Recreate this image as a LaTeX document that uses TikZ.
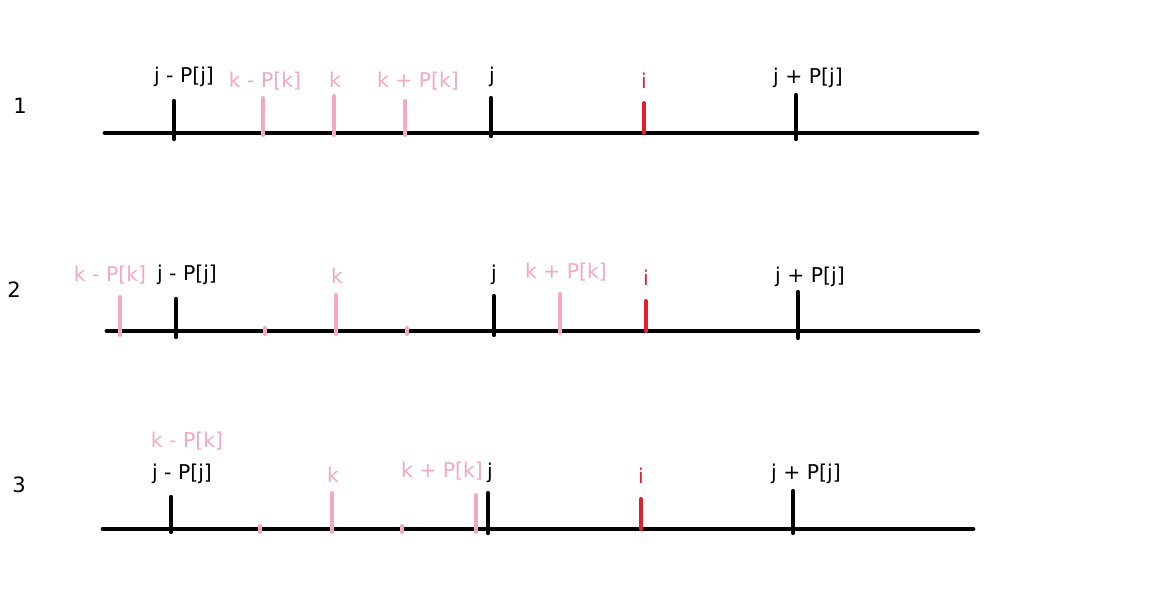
\documentclass[tikz,border=0pt]{standalone}
\usepackage{fontspec}
\setmainfont{DejaVu Sans}
\definecolor{kpink}{RGB}{244,168,194}
\definecolor{ired}{RGB}{228,30,44}
\tikzset{
  axis/.style={line width=2.7pt, line cap=round},
  jtick/.style={line width=2.4pt, line cap=round},
  ktick/.style={line width=2.3pt, line cap=round, kpink},
  itick/.style={line width=2.3pt, line cap=round, ired},
  lbl/.style={anchor=base, inner sep=0pt, font=\fontsize{11.6}{13}\selectfont},
  klbl/.style={lbl, text=kpink},
  ilbl/.style={lbl, text=ired},
  rownum/.style={lbl, font=\fontsize{12}{14}\selectfont}
}
\begin{document}
\begin{tikzpicture}[x=0.02cm,y=-0.02cm]
  \useasboundingbox (0,0) rectangle (1150,605);
  % row 1
  \node[rownum] (n1) at (20,113) {1};
  \draw[axis] (105,133)--(977,133);
  \draw[jtick] (174,101)--(174,139);
  \draw[ktick] (263,98)--(263,135);
  \draw[ktick] (334,96)--(334,135);
  \draw[ktick] (405,101)--(405,135);
  \draw[jtick] (491,98)--(491,136);
  \draw[itick] (644,103)--(644,133);
  \draw[jtick] (796,95)--(796,139);
  \node[lbl] (r1jm) at (184,82) {j - P[j]};
  \node[klbl] (r1km) at (265,87) {k - P[k]};
  \node[klbl] (r1k) at (335,87) {k};
  \node[klbl] (r1kp) at (418,87) {k + P[k]};
  \node[lbl] (r1j) at (492,82) {j};
  \node[ilbl] (r1i) at (644,88) {i};
  \node[lbl] (r1jp) at (808,83) {j + P[j]};
  % row 2
  \node[rownum] (n2) at (14,297) {2};
  \draw[axis] (107,331)--(978,331);
  \draw[ktick] (120,297)--(120,335);
  \draw[jtick] (176,299)--(176,337);
  \draw[ktick] (265,328)--(265,334);
  \draw[ktick] (336,295)--(336,334);
  \draw[ktick] (407,328)--(407,334);
  \draw[jtick] (494,296)--(494,335);
  \draw[ktick] (560,294)--(560,333);
  \draw[itick] (646,301)--(646,331);
  \draw[jtick] (798,292)--(798,338);
  \node[klbl] (r2km) at (110,281) {k - P[k]};
  \node[lbl] (r2jm) at (187,280) {j - P[j]};
  \node[klbl] (r2k) at (337,283) {k};
  \node[lbl] (r2j) at (494,280) {j};
  \node[klbl] (r2kp) at (566,278) {k + P[k]};
  \node[ilbl] (r2i) at (646,285) {i};
  \node[lbl] (r2jp) at (810,282) {j + P[j]};
  % row 3
  \node[rownum] (n3) at (19,492) {3};
  \draw[axis] (103,529)--(973,529);
  \draw[jtick] (171,497)--(171,532);
  \draw[ktick] (260,526)--(260,532);
  \draw[ktick] (332,493)--(332,532);
  \draw[ktick] (402,526)--(402,532);
  \draw[ktick] (476,495)--(476,532);
  \draw[jtick] (488,493)--(488,533);
  \draw[itick] (641,499)--(641,529);
  \draw[jtick] (793,491)--(793,533);
  \node[klbl] (r3km) at (187,447) {k - P[k]};
  \node[lbl] (r3jm) at (182,479) {j - P[j]};
  \node[klbl] (r3k) at (333,482) {k};
  \node[klbl] (r3kp) at (442,477) {k + P[k]};
  \node[lbl] (r3j) at (490,478) {j};
  \node[ilbl] (r3i) at (641,483) {i};
  \node[lbl] (r3jp) at (806,479) {j + P[j]};
\end{tikzpicture}
\end{document}
